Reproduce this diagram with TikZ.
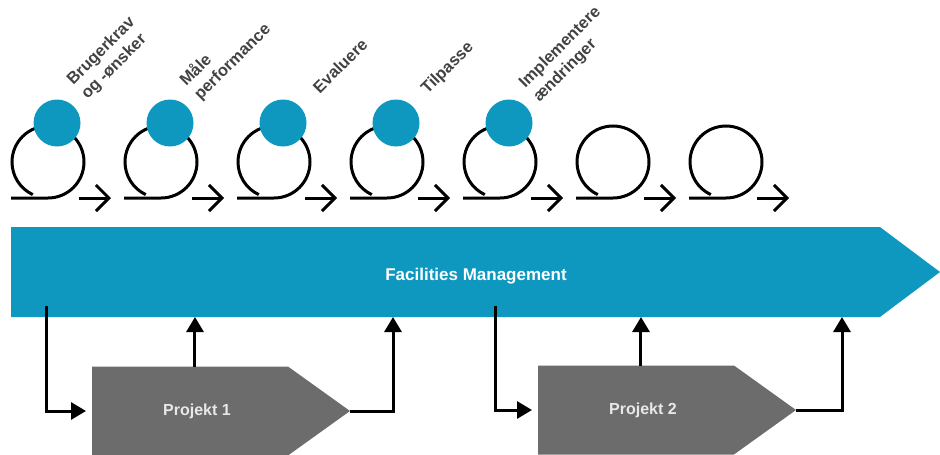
\documentclass[tikz,border=0pt]{standalone}
\usepackage{fontspec}
\setmainfont{Liberation Sans}
\usepackage{tikz}
\usetikzlibrary{arrows.meta,shapes.symbols}
\definecolor{fmblue}{RGB}{14,152,191}
\definecolor{projgray}{RGB}{108,108,108}
\definecolor{labelgray}{RGB}{66,66,66}

\begin{document}
\begin{tikzpicture}[x=1pt,y=-1pt,
  loopline/.style={line width=3pt},
  looparrow/.style={line width=3pt,-{Straight Barb[length=13pt,width=26pt]}},
  dot/.style={circle,fill=fmblue,minimum size=47pt,inner sep=0pt},
  steplabel/.style={anchor=south west,rotate=45,inner sep=1pt,align=left,text=labelgray,font=\bfseries\fontsize{16.5}{20}\selectfont},
  fmbar/.style={shape=signal,signal to=east,signal pointer angle=73.7,fill=fmblue,anchor=west,minimum width=929pt,minimum height=90pt,inner sep=0pt,outer sep=0pt},
  projbox/.style={shape=signal,signal to=east,signal pointer angle=71.3,fill=projgray,anchor=west,minimum width=258pt,minimum height=89pt,inner sep=0pt,outer sep=0pt,text={rgb,255:red,232;green,232;blue,232},font=\bfseries\fontsize{16}{19}\selectfont},
  flow/.style={line width=3pt,-{Triangle[length=15pt,width=17pt]}}
]
\useasboundingbox (0,0) rectangle (940,455);

%Shape: Signal [id:fm]
\node[fmbar] (fm) at (11,272) {};
% Text Node
\node[text=white,font=\bfseries\fontsize{17}{20}\selectfont] (fmtext) at (476,276) {Facilities Management};

%Shape: Signal [id:p1]
\node[projbox] (p1) at (92,411) {\hspace{14pt}Projekt 1};
%Shape: Signal [id:p2]
\node[projbox] (p2) at (538,410) {\hspace{14pt}Projekt 2};

%Straight Lines [id:in1]
\draw[flow,shorten >=6pt] ([xshift=35,yshift=11]fm.south west) |- (p1.west);
%Straight Lines [id:up1]
\draw[flow] ([xshift=5]p1.north) -- ([xshift=5]p1.north |- fm.south);
%Straight Lines [id:out1]
\draw[flow] (p1.east) -| ([xshift=382]fm.south west);
%Straight Lines [id:in2]
\draw[flow,shorten >=6pt] ([xshift=484,yshift=11]fm.south west) |- (p2.west);
%Straight Lines [id:up2]
\draw[flow] ([xshift=5]p2.north) -- ([xshift=5]p2.north |- fm.south);
%Straight Lines [id:out2]
\draw[flow] (p2.east) -| ([xshift=831]fm.south west);

%Shape: Loop [id:loop1]
\draw[loopline] (11,198) -- (48,198) arc[start angle=90,end angle=-245,radius=36];
\draw[looparrow] (79,198) -- (111,198);
%Shape: Loop [id:loop2]
\draw[loopline] (124,198) -- (161,198) arc[start angle=90,end angle=-245,radius=36];
\draw[looparrow] (192,198) -- (224,198);
%Shape: Loop [id:loop3]
\draw[loopline] (237,198) -- (274,198) arc[start angle=90,end angle=-245,radius=36];
\draw[looparrow] (305,198) -- (337,198);
%Shape: Loop [id:loop4]
\draw[loopline] (350,198) -- (387,198) arc[start angle=90,end angle=-245,radius=36];
\draw[looparrow] (418,198) -- (450,198);
%Shape: Loop [id:loop5]
\draw[loopline] (463,198) -- (500,198) arc[start angle=90,end angle=-245,radius=36];
\draw[looparrow] (531,198) -- (563,198);
%Shape: Loop [id:loop6]
\draw[loopline] (576,198) -- (613,198) arc[start angle=90,end angle=-245,radius=36];
\draw[looparrow] (644,198) -- (676,198);
%Shape: Loop [id:loop7]
\draw[loopline] (689,198) -- (726,198) arc[start angle=90,end angle=-245,radius=36];
\draw[looparrow] (757,198) -- (789,198);

%Shape: Circle [id:d1]
\node[dot] (d1) at (57,123) {};
%Shape: Circle [id:d2]
\node[dot] (d2) at (170,123) {};
%Shape: Circle [id:d3]
\node[dot] (d3) at (283,123) {};
%Shape: Circle [id:d4]
\node[dot] (d4) at (396,123) {};
%Shape: Circle [id:d5]
\node[dot] (d5) at (509,123) {};

% Text Node
\node[steplabel] (lab1) at (90,104) {Brugerkrav\\og -ønsker};
% Text Node
\node[steplabel] (lab2) at (203,105) {Måle\\performance};
% Text Node
\node[steplabel] (lab3) at (320,96) {Evaluere};
% Text Node
\node[steplabel] (lab4) at (430,99) {Tilpasse};
% Text Node
\node[steplabel] (lab5) at (542,107) {Implementere\\ændringer};

\end{tikzpicture}
\end{document}
